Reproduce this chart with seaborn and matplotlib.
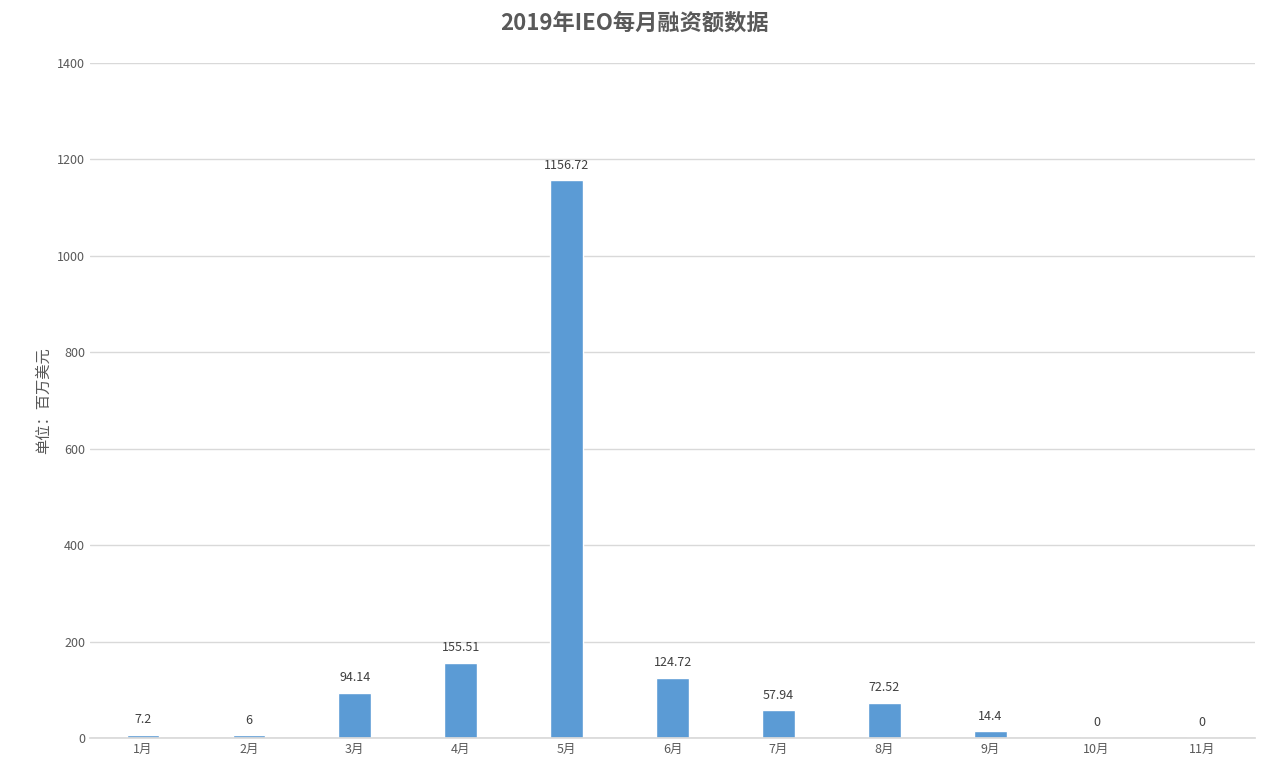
import matplotlib
matplotlib.use("Agg")
import matplotlib.pyplot as plt
import seaborn as sns
import pandas as pd

months = ["1月", "2月", "3月", "4月", "5月", "6月", "7月", "8月", "9月", "10月", "11月"]
values = [7.2, 6, 94.14, 155.51, 1156.72, 124.72, 57.94, 72.52, 14.4, 0, 0]
labels = ["7.2", "6", "94.14", "155.51", "1156.72", "124.72", "57.94", "72.52", "14.4", "0", "0"]

sns.set_theme(style="white")
plt.rcParams['font.family'] = ['Noto Sans CJK SC', 'DejaVu Sans']

fig = plt.figure(figsize=(12.68, 7.77), dpi=100)
ax = fig.add_axes([0.071, 0.050, 0.919, 0.869])
df = pd.DataFrame({"m": months, "v": values})
sns.barplot(data=df, x="m", y="v", color="#5B9BD5", width=0.31, saturation=1, ax=ax)

for i, (v, t) in enumerate(zip(values, labels)):
    ax.text(i, v + 18, t, ha="center", va="bottom", fontsize=9, color="#404040")

ax.set_ylim(0, 1400)
ax.set_yticks(range(0, 1401, 200))
ax.yaxis.grid(True, color="#D9D9D9", linewidth=1)
ax.set_axisbelow(True)
for s in ["top", "right", "left"]:
    ax.spines[s].set_visible(False)
ax.spines["bottom"].set_color("#D9D9D9")
ax.tick_params(axis="both", labelsize=9, colors="#595959", length=0)
ax.set_xlabel("")
ax.set_ylabel("单位：百万美元", fontsize=11, color="#595959")
ax.set_xlim(-0.5, 10.5)
fig.suptitle("2019年IEO每月融资额数据", fontsize=16, fontweight="bold", color="#595959", y=0.985)

fig.savefig("out.png", dpi=100)
